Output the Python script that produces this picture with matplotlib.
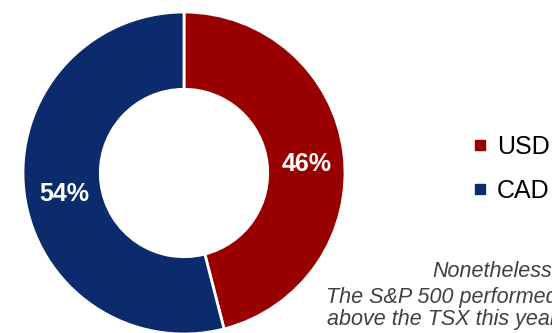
import matplotlib.pyplot as plt
from matplotlib.lines import Line2D

plt.rcParams['font.family'] = ['Liberation Sans', 'DejaVu Sans']

labels = ["USD", "CAD"]
shares = [46, 54]
colors = ["#990000", "#0c2b6c"]
note_lines = ["Nonetheless,", "The S&P 500 performed", "above the TSX this year"]

fig = plt.figure(figsize=(5.52, 3.33), dpi=100)
# axes placed so the ring centre sits at (184, 173) px with radius 161 px
ax = fig.add_axes([23 / 552, -1 / 333, 322 / 552, 322 / 333])
wedges, _, pcts = ax.pie(shares, colors=colors, startangle=90, counterclock=False, radius=1,
                         autopct="%d%%", pctdistance=0.76,
                         wedgeprops=dict(width=0.48, edgecolor="white", linewidth=2),
                         textprops=dict(color="white", fontsize=18, fontweight="bold"))
# nudge the labels down a touch like the original
for t in pcts:
    x, y = t.get_position()
    t.set_position((x + 0.01, y - 0.037))
ax.set_xlim(-1, 1)
ax.set_ylim(-1, 1)
ax.set_aspect("equal")
ax.axis("off")

# legend
handles = [Line2D([], [], marker="s", linestyle="none", markersize=7,
                  markerfacecolor=c, markeredgecolor=c) for c in colors]
fig.legend(handles, labels, loc="upper left", bbox_to_anchor=(461 / 552, 1 - 122 / 333),
           frameon=False, fontsize=18, handlelength=0.5, handletextpad=0.45,
           labelspacing=0.8, borderpad=0)

# commentary text (cut off at the right edge, as in the original)
ys = [272, 297, 320]
xs = [432, 326, 327]
for t, x, y in zip(note_lines, xs, ys):
    fig.text(x / 552, 1 - y / 333, t, fontsize=15.5, style="italic", color="#404040",
             ha="left", va="center")

fig.savefig("out.png", dpi=100)
